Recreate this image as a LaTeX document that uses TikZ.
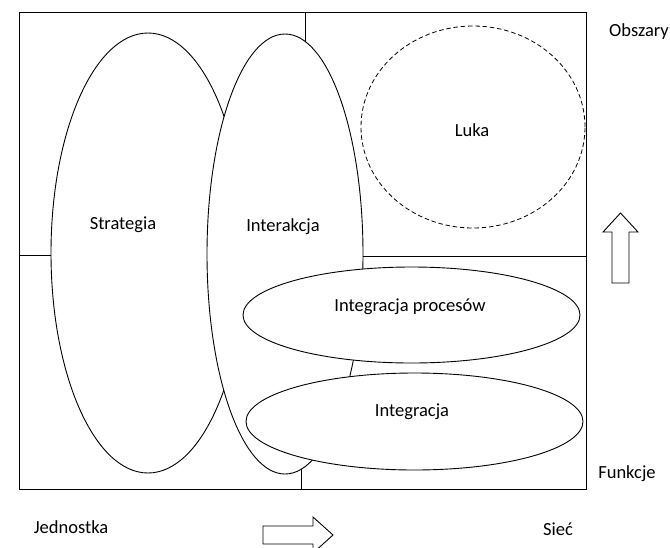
\documentclass[tikz,border=0pt]{standalone}
\usepackage{fontspec}
\setmainfont{Carlito}
\usetikzlibrary{shapes.geometric}
\begin{document}
\begin{tikzpicture}[x=1pt,y=-1pt,
  every path/.style={line width=0.9pt},
  oval/.style={ellipse,draw,fill=white,inner sep=0pt,line width=0.9pt},
  lbl/.style={font=\fontsize{18.5}{22}\selectfont,inner sep=0pt},
  blockarrow/.style={draw,line width=0.9pt,fill=white}]
\useasboundingbox (0,0) rectangle (670,547);
% frame
\coordinate (tl) at (19,12);
\coordinate (br) at (586,489);
\draw (tl) rectangle (br);
% dividers
\coordinate (vt1) at (305,12);  \coordinate (vt2) at (305,120);
\coordinate (vb1) at (301,489); \coordinate (vb2) at (301,440);
\coordinate (hl1) at (19,255);  \coordinate (hl2) at (150,255);
\coordinate (hr1) at (340,256); \coordinate (hr2) at (586,256);
\draw (vt1) -- (vt2);
\draw (vb1) -- (vb2);
\draw (hl1) -- (hl2);
\draw (hr1) -- (hr2);
% ellipses
\node[oval,minimum width=194pt,minimum height=440pt] (strat) at (148,253) {};
\node[oval,minimum width=156pt,minimum height=440pt] (inter) at (285,254) {};
\node[oval,minimum width=337pt,minimum height=96pt] (intp) at (411.5,315) {};
\node[oval,minimum width=337pt,minimum height=97pt] (intg) at (414.5,421.5) {};
\node[ellipse,draw,dash pattern=on 4.5pt off 2.8pt,inner sep=0pt,line width=0.8pt,
      minimum width=224pt,minimum height=202pt] (luka) at (473,127) {};
% labels
\node[lbl] (tstrat) at (123,225) {Strategia};
\node[lbl] (tinter) at (283,227) {Interakcja};
\node[lbl] (tluka) at (472,130) {Luka};
\node[lbl] (tintp) at (410,307) {Integracja procesów};
\node[lbl] (tintg) at (412,412) {Integracja};
\node[lbl] (tobs) at (639,32) {Obszary};
\node[lbl] (tfun) at (627,474) {Funkcje};
\node[lbl] (tjed) at (71,527) {Jednostka};
\node[lbl] (tsie) at (558,529) {Sieć};
% up arrow
\draw[blockarrow] (612,283) -- (612,232) -- (603,232) -- (620.5,213) -- (638,232) -- (629,232) -- (629,283) -- cycle;
% right arrow
\draw[blockarrow] (263,526) -- (313,526) -- (313,517) -- (333,535) -- (313,553) -- (313,544) -- (263,544) -- cycle;
\end{tikzpicture}
\end{document}
